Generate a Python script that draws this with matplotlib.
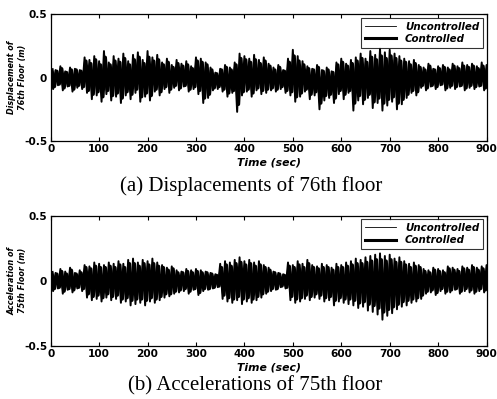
import numpy as np
import matplotlib
matplotlib.use("Agg")
import matplotlib.pyplot as plt

# time grid of peak readings (sec)
t = np.arange(0, 901, 10)

# 76th floor displacement (m): peak values read every 10 s
disp_unc_up = [0.08, 0.06, 0.09, 0.05, 0.08, 0.07, 0.06,
               0.16, 0.14, 0.17, 0.13, 0.21, 0.12, 0.17,
               0.15, 0.19, 0.13, 0.18, 0.20, 0.14, 0.21, 0.16, 0.18,
               0.12, 0.15, 0.10, 0.14, 0.11, 0.13, 0.09,
               0.16, 0.15, 0.12, 0.08,
               0.04, 0.07, 0.10, 0.08, 0.12,
               0.19, 0.17, 0.15, 0.18, 0.14, 0.16, 0.11,
               0.08, 0.10, 0.06,
               0.15, 0.22, 0.17, 0.13,
               0.09, 0.07, 0.10, 0.06, 0.08, 0.05,
               0.12, 0.15, 0.11, 0.14,
               0.16, 0.19, 0.15, 0.21, 0.18, 0.23, 0.20, 0.22, 0.19, 0.17,
               0.15, 0.13, 0.14,
               0.10, 0.08, 0.11, 0.07, 0.09, 0.10, 0.08, 0.11, 0.09, 0.12, 0.10, 0.11, 0.09, 0.12, 0.10]
disp_unc_lo = [-0.09, -0.06, -0.10, -0.07, -0.11, -0.08, -0.09,
               -0.12, -0.17, -0.14, -0.19, -0.13, -0.18, -0.15,
               -0.20, -0.14, -0.17, -0.12, -0.19, -0.15, -0.18, -0.11, -0.14,
               -0.09, -0.12, -0.08, -0.10, -0.07, -0.11, -0.09,
               -0.13, -0.20, -0.16, -0.10,
               -0.09, -0.11, -0.15, -0.12, -0.27,
               -0.14, -0.11, -0.15, -0.10, -0.13, -0.12, -0.10,
               -0.11, -0.09, -0.12,
               -0.14, -0.19, -0.15, -0.11,
               -0.17, -0.14, -0.25, -0.18, -0.16, -0.20,
               -0.13, -0.17, -0.12, -0.26,
               -0.18, -0.21, -0.16, -0.24, -0.20, -0.26, -0.22, -0.19, -0.25, -0.21,
               -0.16, -0.12, -0.14,
               -0.08, -0.10, -0.07, -0.09, -0.06, -0.10, -0.08, -0.09, -0.07, -0.10, -0.08, -0.09, -0.07, -0.10, -0.19]
disp_con_up = [0.06, 0.05, 0.07, 0.04, 0.06, 0.06, 0.05,
               0.13, 0.11, 0.14, 0.10, 0.16, 0.10, 0.13,
               0.12, 0.15, 0.10, 0.14, 0.16, 0.11, 0.16, 0.13, 0.14,
               0.10, 0.12, 0.08, 0.11, 0.09, 0.10, 0.07,
               0.13, 0.12, 0.10, 0.06,
               0.03, 0.06, 0.08, 0.06, 0.10,
               0.15, 0.14, 0.12, 0.14, 0.11, 0.13, 0.09,
               0.06, 0.08, 0.05,
               0.12, 0.17, 0.13, 0.10,
               0.07, 0.06, 0.08, 0.05, 0.06, 0.04,
               0.10, 0.12, 0.09, 0.11,
               0.13, 0.15, 0.12, 0.16, 0.14, 0.17, 0.15, 0.17, 0.15, 0.13,
               0.12, 0.10, 0.11,
               0.08, 0.06, 0.09, 0.06, 0.07, 0.08, 0.06, 0.09, 0.07, 0.09, 0.08, 0.09, 0.07, 0.09, 0.08]
disp_con_lo = [-0.07, -0.05, -0.08, -0.06, -0.09, -0.06, -0.07,
               -0.10, -0.13, -0.11, -0.15, -0.10, -0.14, -0.12,
               -0.16, -0.11, -0.13, -0.09, -0.15, -0.12, -0.14, -0.09, -0.11,
               -0.07, -0.09, -0.06, -0.08, -0.06, -0.09, -0.07,
               -0.10, -0.16, -0.13, -0.08,
               -0.07, -0.09, -0.12, -0.10, -0.21,
               -0.11, -0.09, -0.12, -0.08, -0.10, -0.09, -0.08,
               -0.09, -0.07, -0.10,
               -0.11, -0.15, -0.12, -0.09,
               -0.13, -0.11, -0.20, -0.14, -0.13, -0.16,
               -0.10, -0.13, -0.10, -0.20,
               -0.14, -0.17, -0.13, -0.19, -0.16, -0.20, -0.17, -0.15, -0.20, -0.17,
               -0.13, -0.10, -0.11,
               -0.06, -0.08, -0.06, -0.07, -0.05, -0.08, -0.06, -0.07, -0.06, -0.08, -0.06, -0.07, -0.06, -0.08, -0.15]

# 75th floor acceleration: peak values read every 10 s
acc_unc_up = [0.08, 0.06, 0.09, 0.07, 0.10, 0.06, 0.08,
              0.12, 0.11, 0.14, 0.13, 0.12, 0.14, 0.13,
              0.15, 0.13, 0.16, 0.17, 0.14, 0.16, 0.15, 0.17, 0.14,
              0.12, 0.10, 0.11, 0.08, 0.07, 0.09, 0.08,
              0.09, 0.08, 0.07, 0.06, 0.05,
              0.13, 0.15, 0.14, 0.16, 0.18, 0.15, 0.16, 0.14, 0.15, 0.12, 0.10,
              0.07, 0.06, 0.05,
              0.14, 0.12, 0.15, 0.13, 0.16, 0.12,
              0.11, 0.13, 0.12, 0.10, 0.13, 0.12, 0.14,
              0.15, 0.17, 0.16, 0.18, 0.19, 0.20, 0.21, 0.19, 0.20, 0.17, 0.18,
              0.15, 0.13, 0.14, 0.12,
              0.09, 0.08, 0.10, 0.09, 0.08, 0.11, 0.10, 0.09, 0.11, 0.10, 0.12, 0.10, 0.11, 0.12]
acc_unc_lo = [-0.08, -0.06, -0.10, -0.07, -0.09, -0.06, -0.08,
              -0.13, -0.15, -0.14, -0.16, -0.13, -0.15, -0.14,
              -0.17, -0.16, -0.19, -0.18, -0.17, -0.19, -0.16, -0.17, -0.15,
              -0.13, -0.12, -0.10, -0.09, -0.08, -0.10, -0.07,
              -0.11, -0.08, -0.07, -0.06, -0.05,
              -0.14, -0.16, -0.17, -0.15, -0.18, -0.16, -0.17, -0.15, -0.13, -0.10, -0.08,
              -0.07, -0.05, -0.06,
              -0.15, -0.17, -0.16, -0.14, -0.15, -0.13,
              -0.14, -0.16, -0.15, -0.19, -0.16, -0.17, -0.18,
              -0.19, -0.21, -0.20, -0.23, -0.24, -0.26, -0.30, -0.27, -0.25, -0.22, -0.20,
              -0.19, -0.17, -0.16, -0.14,
              -0.10, -0.09, -0.11, -0.08, -0.10, -0.09, -0.07, -0.10, -0.08, -0.09, -0.10, -0.08, -0.09, -0.10]
acc_con_up = [0.06, 0.05, 0.07, 0.05, 0.08, 0.05, 0.06,
              0.10, 0.09, 0.11, 0.10, 0.10, 0.11, 0.10,
              0.12, 0.10, 0.13, 0.13, 0.11, 0.13, 0.12, 0.13, 0.11,
              0.10, 0.08, 0.09, 0.06, 0.06, 0.07, 0.06,
              0.07, 0.06, 0.06, 0.05, 0.04,
              0.10, 0.12, 0.11, 0.13, 0.14, 0.12, 0.13, 0.11, 0.12, 0.10, 0.08,
              0.06, 0.05, 0.04,
              0.11, 0.10, 0.12, 0.10, 0.13, 0.10,
              0.09, 0.10, 0.10, 0.08, 0.10, 0.10, 0.11,
              0.12, 0.13, 0.13, 0.14, 0.15, 0.16, 0.16, 0.15, 0.16, 0.14, 0.14,
              0.12, 0.10, 0.11, 0.10,
              0.07, 0.06, 0.08, 0.07, 0.06, 0.09, 0.08, 0.07, 0.09, 0.08, 0.10, 0.08, 0.09, 0.10]
acc_con_lo = [-0.06, -0.05, -0.08, -0.06, -0.07, -0.05, -0.06,
              -0.10, -0.12, -0.11, -0.13, -0.10, -0.12, -0.11,
              -0.14, -0.13, -0.15, -0.14, -0.14, -0.15, -0.13, -0.14, -0.12,
              -0.10, -0.10, -0.08, -0.07, -0.06, -0.08, -0.06,
              -0.09, -0.06, -0.06, -0.05, -0.04,
              -0.11, -0.13, -0.14, -0.12, -0.14, -0.13, -0.14, -0.12, -0.10, -0.08, -0.06,
              -0.06, -0.04, -0.05,
              -0.12, -0.14, -0.13, -0.11, -0.12, -0.10,
              -0.11, -0.13, -0.12, -0.15, -0.13, -0.14, -0.14,
              -0.15, -0.17, -0.16, -0.18, -0.19, -0.21, -0.24, -0.22, -0.20, -0.18, -0.16,
              -0.15, -0.14, -0.13, -0.11,
              -0.08, -0.07, -0.09, -0.06, -0.08, -0.07, -0.06, -0.08, -0.06, -0.07, -0.08, -0.06, -0.07, -0.08]

x_ticks = [0, 100, 200, 300, 400, 500, 600, 700, 800, 900]
y_ticks = [-0.5, 0, 0.5]
y_tick_labels = ["-0.5", "0", "0.5"]


def zigzag(times, up, lo, shift):
    # alternate each upper peak with the following lower peak
    xs = np.empty(2 * len(times))
    ys = np.empty(2 * len(times))
    xs[0::2] = times + shift
    xs[1::2] = times + shift + 5
    ys[0::2] = up
    ys[1::2] = lo
    return xs, ys


def draw_panel(ax, unc_up, unc_lo, con_up, con_lo, ylabel):
    xu, yu = zigzag(t, unc_up, unc_lo, 0)
    xc, yc = zigzag(t, con_up, con_lo, 2.5)
    ax.plot(xu, yu, color="black", lw=1.4, label="Uncontrolled")
    ax.plot(xc, yc, color="black", lw=2.6, label="Controlled")
    ax.set_xlim(0, 900)
    ax.set_ylim(-0.5, 0.5)
    ax.set_xticks(x_ticks)
    ax.set_yticks(y_ticks)
    ax.set_yticklabels(y_tick_labels)
    ax.tick_params(direction="in", top=True, right=True, length=3, width=0.8,
                   labelsize=7.6, pad=2.5)
    for lab in ax.get_xticklabels() + ax.get_yticklabels():
        lab.set_fontweight("bold")
    for sp in ax.spines.values():
        sp.set_linewidth(0.9)
    ax.set_xlabel("Time (sec)", fontsize=7.8, fontweight="bold", style="italic", labelpad=2.5)
    ax.set_ylabel(ylabel, fontsize=5.8, fontweight="bold", style="italic")
    ax.yaxis.set_label_coords(-0.055, 0.5)
    handles, labels = ax.get_legend_handles_labels()
    leg = ax.legend(handles, labels, loc="upper right", frameon=True,
                    fancybox=False, edgecolor="black", handlelength=3.0,
                    borderpad=0.35, labelspacing=0.25, handletextpad=0.9,
                    borderaxespad=0.35, prop={"size": 7.4, "weight": "bold", "style": "italic"})
    leg.get_frame().set_linewidth(0.8)
    leg.legend_handles[0].set_linewidth(0.6)
    leg.legend_handles[1].set_linewidth(2.2)


fig = plt.figure(figsize=(4.97, 3.99), dpi=100)
ax1 = fig.add_axes([0.102, 0.6466, 0.877, 0.3175])
ax2 = fig.add_axes([0.102, 0.1336, 0.877, 0.3258])

draw_panel(ax1, disp_unc_up, disp_unc_lo, disp_con_up, disp_con_lo,
           "Displacement of\n76th Floor (m)")
draw_panel(ax2, acc_unc_up, acc_unc_lo, acc_con_up, acc_con_lo,
           "Acceleration of\n75th Floor (m)")

fig.text(0.505, 1 - 186 / 399, "(a) Displacements of 76th floor", ha="center", va="center",
         fontsize=15, family="Liberation Serif")
fig.text(0.513, 1 - 386 / 399, "(b) Accelerations of 75th floor", ha="center", va="center",
         fontsize=15, family="Liberation Serif")

fig.savefig("out.png", dpi=100)
